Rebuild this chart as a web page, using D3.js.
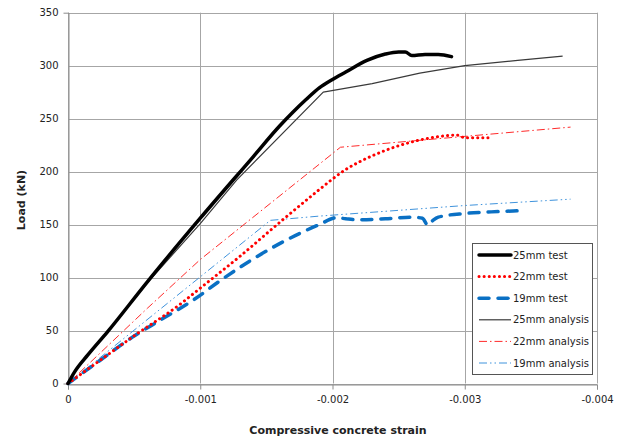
<!DOCTYPE html>
<html>
<head>
  <script src="https://d3js.org/d3.v7.min.js"></script>
  <style>
    body { margin: 0; background: #fff; }
    text { font-family: "DejaVu Sans", Verdana, sans-serif; fill: #222; }
    .grid line { stroke: #a6a6a6; stroke-width: 1; }
  </style>
</head>
<body>
<script>
var width = 626, height = 439;

// strain values (negative = compression) and loads in kN
var t25Strain = [0, -0.00005, -0.00015, -0.0003, -0.0006, -0.001, -0.0014, -0.0016, -0.0017, -0.0018, -0.0019, -0.002, -0.0021, -0.00226, -0.0024, -0.0025, -0.00255, -0.0026, -0.0027, -0.0028, -0.0029];
var t25Load   = [0, 11, 27, 49, 96, 156, 214, 243, 256, 268, 279, 287, 294, 305, 311, 313, 313, 309.5, 310.5, 310.5, 308.5];

var t22Strain = [0, -0.0002, -0.0005, -0.00085, -0.001, -0.0013, -0.0016, -0.0019, -0.002, -0.0021, -0.0022, -0.0024, -0.0026, -0.0028, -0.00294, -0.003, -0.0032];
var t22Load   = [0, 18, 45, 75, 90, 120, 152, 183, 193, 202, 209, 220, 228, 233, 234.5, 232, 232];

var t19Strain = [0, -0.0002, -0.00049, -0.0007, -0.00095, -0.00115, -0.00138, -0.0016, -0.0019, -0.00203, -0.0021, -0.0022, -0.0024, -0.0026, -0.00268, -0.00272, -0.00276, -0.0028, -0.003, -0.0032, -0.0034];
var t19Load   = [0, 18, 44, 60, 79, 97, 116, 132, 150, 156.5, 155.5, 154.5, 155.5, 157, 156, 149.5, 154, 157, 160.5, 162, 163];

var a25Strain = [0, -0.00005, -0.00015, -0.0003, -0.0006, -0.001, -0.001275, -0.00193, -0.0023, -0.00266, -0.003, -0.0034, -0.00374];
var a25Load   = [0, 11, 27, 49, 95, 151, 192, 275, 283, 293, 300, 305, 309];

var a22Strain = [0, -0.0006, -0.001, -0.00206, -0.0038];
var a22Load   = [0, 71, 117, 223, 242];

var a19Strain = [0, -0.00153, -0.0019, -0.003, -0.0038];
var a19Load   = [0, 154, 158, 168, 174];

var xTicks = [0, -0.001, -0.002, -0.003, -0.004];
var yTicks = [0, 50, 100, 150, 200, 250, 300, 350];
var seriesNames = ["25mm test", "22mm test", "19mm test", "25mm analysis", "22mm analysis", "19mm analysis"];

function pairs(xs, ys) { return xs.map(function(v, i) { return [v, ys[i]]; }); }

var series = [
  { name: seriesNames[0], pts: pairs(t25Strain, t25Load), color: "#000", w: 3.5, dash: null, cap: "round", smooth: true },
  { name: seriesNames[1], pts: pairs(t22Strain, t22Load), color: "#ff0000", w: 3, dash: "0.1,5", cap: "round", smooth: true },
  { name: seriesNames[2], pts: pairs(t19Strain, t19Load), color: "#0a70c4", w: 3.5, dash: "10,9", cap: "round", smooth: true },
  { name: seriesNames[3], pts: pairs(a25Strain, a25Load), color: "#3a3a3a", w: 1.2, dash: null, cap: "butt", smooth: false },
  { name: seriesNames[4], pts: pairs(a22Strain, a22Load), color: "#ff2a2a", w: 1, dash: "8,3,1.5,3", cap: "butt", smooth: false },
  { name: seriesNames[5], pts: pairs(a19Strain, a19Load), color: "#3f93dc", w: 1, dash: "8,3,1.5,3,1.5,3", cap: "butt", smooth: false }
];

var x = d3.scaleLinear().domain([0, -0.004]).range([68, 597]);
var y = d3.scaleLinear().domain([0, 350]).range([383.5, 12.7]);

var svg = d3.select("body").append("svg").attr("width", width).attr("height", height);

// gridlines
var grid = svg.append("g").attr("class", "grid");
grid.selectAll("line.h").data(yTicks).enter().append("line")
  .attr("x1", x(0)).attr("x2", x(-0.004))
  .attr("y1", function(d) { return Math.round(y(d)) + 0.5; })
  .attr("y2", function(d) { return Math.round(y(d)) + 0.5; });
grid.selectAll("line.v").data(xTicks).enter().append("line")
  .attr("y1", y(0)).attr("y2", y(350))
  .attr("x1", function(d) { return Math.round(x(d)) + 0.5; })
  .attr("x2", function(d) { return Math.round(x(d)) + 0.5; });

// axes
var xAxis = d3.axisBottom(x).tickValues(xTicks).tickSize(5).tickPadding(6)
  .tickFormat(function(d) { return d === 0 ? "0" : d3.format(".3f")(d).replace("−", "-"); });
var gx = svg.append("g").attr("transform", "translate(0," + (Math.round(y(0)) + 0.5) + ")").call(xAxis);
var yAxis = d3.axisLeft(y).tickValues(yTicks).tickSize(5).tickPadding(5);
var gy = svg.append("g").attr("transform", "translate(" + (Math.round(x(0)) + 0.5) + ",0)").call(yAxis);
[gx, gy].forEach(function(g) {
  g.select(".domain").attr("stroke", "#8c8c8c");
  g.selectAll(".tick line").attr("stroke", "#8c8c8c");
  g.selectAll(".tick text").style("font-family", "'DejaVu Sans', Verdana, sans-serif").style("font-size", "10px").attr("fill", "#333");
});
gy.selectAll(".tick line").remove();

// lines
var lineSmooth = d3.line().x(function(d) { return x(d[0]); }).y(function(d) { return y(d[1]); }).curve(d3.curveMonotoneX);
var lineStraight = d3.line().x(function(d) { return x(d[0]); }).y(function(d) { return y(d[1]); });

// analysis first, tests on top
var order = [3, 4, 5, 2, 1, 0];
order.forEach(function(i) {
  var s = series[i];
  svg.append("path").datum(s.pts)
    .attr("d", s.smooth ? lineSmooth : lineStraight)
    .attr("fill", "none")
    .attr("stroke", s.color)
    .attr("stroke-width", s.w)
    .attr("stroke-linecap", s.cap)
    .attr("stroke-linejoin", "round")
    .attr("stroke-dasharray", s.dash);
});

// axis titles
svg.append("text").attr("x", 338).attr("y", 434).attr("text-anchor", "middle")
  .style("font-size", "11px").style("font-weight", "bold").text("Compressive concrete strain");
svg.append("text").attr("transform", "translate(25,200) rotate(-90)").attr("text-anchor", "middle")
  .style("font-size", "11px").style("font-weight", "bold").text("Load  (kN)");

// legend
var legend = svg.append("g");
legend.append("rect").attr("x", 472.5).attr("y", 243.5).attr("width", 120).attr("height", 131)
  .attr("fill", "#fff").attr("stroke", "#555").attr("stroke-width", 1);
series.forEach(function(s, i) {
  var ly = 255 + i * 21.6;
  legend.append("line").attr("x1", 479).attr("x2", 511).attr("y1", ly).attr("y2", ly)
    .attr("stroke", s.color).attr("stroke-width", s.w)
    .attr("stroke-linecap", s.cap).attr("stroke-dasharray", s.dash);
  legend.append("text").attr("x", 513).attr("y", ly + 3.5)
    .style("font-size", "10px").text(s.name);
});
</script>
</body>
</html>
